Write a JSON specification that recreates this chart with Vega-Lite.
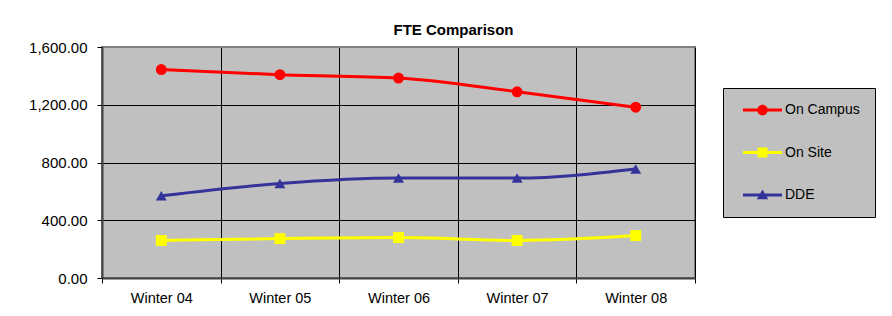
{
  "$schema": "https://vega.github.io/schema/vega-lite/v6.json",
  "width": 593,
  "height": 231,
  "autosize": {"type": "none"},
  "padding": {"left": 102, "top": 47, "right": 197, "bottom": 38},
  "background": "white",
  "title": {
    "text": "FTE Comparison",
    "anchor": "middle",
    "frame": "group",
    "dx": 55,
    "dy": 20,
    "offset": 10,
    "baseline": "alphabetic",
    "fontSize": 15,
    "fontWeight": "bold",
    "font": "Liberation Sans",
    "color": "black"
  },
  "data": {
    "values": [
      {"period": "Winter 04", "series": "On Campus", "fte": 1444},
      {"period": "Winter 05", "series": "On Campus", "fte": 1408},
      {"period": "Winter 06", "series": "On Campus", "fte": 1385},
      {"period": "Winter 07", "series": "On Campus", "fte": 1290},
      {"period": "Winter 08", "series": "On Campus", "fte": 1183},
      {"period": "Winter 04", "series": "On Site", "fte": 260},
      {"period": "Winter 05", "series": "On Site", "fte": 273},
      {"period": "Winter 06", "series": "On Site", "fte": 280},
      {"period": "Winter 07", "series": "On Site", "fte": 260},
      {"period": "Winter 08", "series": "On Site", "fte": 294},
      {"period": "Winter 04", "series": "DDE", "fte": 569},
      {"period": "Winter 05", "series": "DDE", "fte": 655},
      {"period": "Winter 06", "series": "DDE", "fte": 693},
      {"period": "Winter 07", "series": "DDE", "fte": 692},
      {"period": "Winter 08", "series": "DDE", "fte": 755}
    ]
  },
  "encoding": {
    "x": {
      "field": "period",
      "type": "ordinal",
      "sort": null,
      "scale": {"type": "band", "paddingInner": 0, "paddingOuter": 0},
      "axis": {
        "title": null,
        "tickBand": "extent",
        "grid": true,
        "gridColor": "black",
        "gridWidth": 1,
        "domainColor": "#404040",
        "domainWidth": 2,
        "tickColor": "black",
        "tickSize": 5,
        "labelFont": "Liberation Sans",
        "labelFontSize": 14.5,
        "labelColor": "black",
        "labelPadding": 8,
        "labelAngle": 0
      }
    },
    "y": {
      "field": "fte",
      "type": "quantitative",
      "scale": {"domain": [0, 1600]},
      "axis": {
        "title": null,
        "values": [0, 400, 800, 1200, 1600],
        "format": ",.2f",
        "grid": true,
        "gridColor": {"condition": {"test": "datum.value === 1600", "value": "#808080"}, "value": "black"},
        "gridWidth": 1,
        "domainColor": "#404040",
        "domainWidth": 2,
        "tickColor": "black",
        "tickSize": 5,
        "labelFont": "Liberation Sans",
        "labelFontSize": 15,
        "labelColor": "black",
        "labelPadding": 10
      }
    },
    "color": {
      "field": "series",
      "type": "nominal",
      "scale": {"domain": ["On Campus", "On Site", "DDE"], "range": ["#FF0000", "#FFFF00", "#333399"]},
      "legend": {
        "orient": "none",
        "legendX": 621,
        "legendY": 41,
        "title": null,
        "fillColor": "#C0C0C0",
        "strokeColor": "black",
        "padding": 15,
        "rowPadding": 28.5,
        "symbolSize": 196,
        "symbolOffset": 17.5,
        "labelOffset": 15.5,
        "labelFont": "Liberation Sans",
        "labelFontSize": 14,
        "labelColor": "black",
        "symbolStrokeWidth": 0,
        "encode": {
          "symbols": {
            "update": {
              "shape": [
                {"test": "datum.value === 'On Campus'", "value": "M-2.79,-0.21H2.79V0.21H-2.79Z M-0.76,0A0.76,0.76 0 1,1 0.76,0A0.76,0.76 0 1,1 -0.76,0Z"},
                {"test": "datum.value === 'On Site'", "value": "M-2.79,-0.21H2.79V0.21H-2.79Z M-0.71,-0.71H0.71V0.71H-0.71Z"},
                {"value": "M-2.79,-0.21H2.79V0.21H-2.79Z M0,-0.78L0.82,0.6L-0.82,0.6Z"}
              ],
              "fill": [
                {"test": "datum.value === 'On Campus'", "value": "#FF0000"},
                {"test": "datum.value === 'On Site'", "value": "#FFFF00"},
                {"value": "#333399"}
              ],
              "size": {"value": 196},
              "strokeWidth": {"value": 0},
              "opacity": {"value": 1},
              "fillOpacity": {"value": 1}
            }
          }
        }
      }
    }
  },
  "layer": [
    {
      "mark": {"type": "line", "interpolate": "monotone", "strokeWidth": 3}
    },
    {
      "mark": {"type": "point", "filled": true, "opacity": 1, "size": 120},
      "encoding": {
        "shape": {
          "field": "series",
          "type": "nominal",
          "scale": {"domain": ["DDE", "On Campus", "On Site"], "range": ["triangle-up", "circle", "square"]},
          "legend": null
        }
      }
    }
  ],
  "config": {
    "view": {"fill": "#C0C0C0", "stroke": "#808080", "strokeWidth": 2},
    "font": "Liberation Sans"
  }
}
